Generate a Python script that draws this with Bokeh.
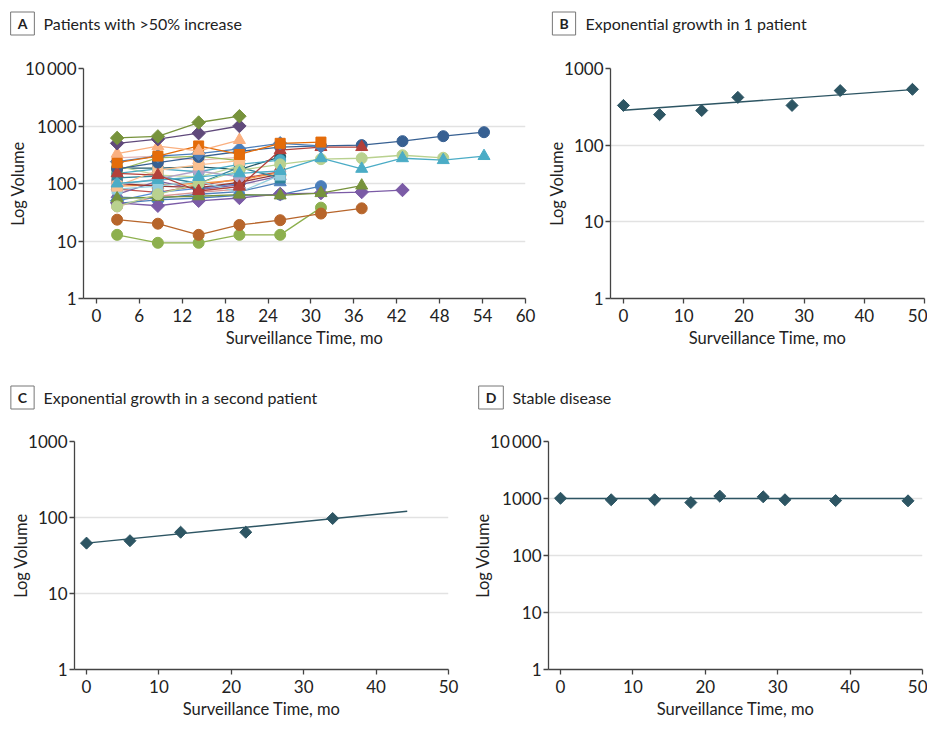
import math
from bokeh.plotting import figure
from bokeh.models import FixedTicker, Label, Range1d, BasicTickFormatter
from bokeh.layouts import column, row
from bokeh.embed import file_html
from bokeh.resources import INLINE

FONT = "Lato"
TXT = "#222222"
AX = "#444444"
GRID = "#e2e2e2"
DARK = "#2d5563"

# ---------------- Panel A data ----------------
a_time = [2.9, 8.6, 14.3, 20.0, 25.7, 31.4, 37.1, 42.8, 48.5, 54.2]
a01 = [620, 660, 1150, 1480]
a02 = [500, 590, 750, 1000]
a03 = [330, 445, 370, 570]
a04 = [230, 300, 450, 320, 500, 525]
a05 = [240, 300, 330, 400, 500, 450]
a06 = [150, 140, 74, 88, 380, 430, 430]
a07 = [180, 230, 290, 360, 430, 450, 465, 545, 665, 780]
a08 = [100, 115, 130, 150, 165, 275, 180, 275, 255, 300]
a09 = [40, 65, 100, 170, 215, 265, 275, 310, 280]
a10 = [55, 58, 60, 64, 62, 68, 92]
a11 = [46, 41, 50, 56, 66, 68, 71, 77]
a12 = [45, 52, 56, 62, 64, 90]
a13 = [23.5, 20, 12.8, 19, 23, 30, 37]
a14 = [12.8, 9.3, 9.3, 12.8, 12.8, 38]
a15 = [90, 170, 210, 250]
a16 = [80, 90, 110, 70, 140]
a17 = [95, 120, 165, 130]
a18 = [125, 135, 100, 190, 125]
a19 = [100, 90, 85, 105, 145]
a20 = [170, 280, 300, 250]
a21 = [58, 55, 65, 72, 105]
a22 = [65, 110, 78, 95, 135]
a23 = [90, 95, 100, 115, 155]
a24 = [150, 180, 160, 215, 255]
a25 = [200, 140, 130, 200]
a26 = [50, 70, 82, 100]
a27 = [80, 70, 92, 120, 160]
a28 = [280, 300, 255, 285]
a29 = [185, 185, 195, 175, 290]
a30 = [40, 60, 70, 80]

a_series = [a30, a29, a28, a27, a26, a25, a24, a23, a22, a21, a20, a19, a18, a17,
            a16, a15, a14, a13, a12, a11, a10, a09, a08, a07, a06, a05, a04, a03,
            a02, a01]
a_styles = [
    ("#D99694", "circle"), ("#215968", "circle"), ("#E6B9B8", "triangle"),
    ("#C0504D", "circle"), ("#558ED5", "diamond"), ("#C3D69B", "square"),
    ("#4BACC6", "circle"), ("#F79646", "triangle"), ("#8064A2", "triangle"),
    ("#4F81BD", "triangle"), ("#9BBB59", "square"), ("#953735", "square"),
    ("#31859C", "square"), ("#B3A2C7", "circle"), ("#93CDDD", "square"),
    ("#FAC090", "square"), ("#8DB04E", "circle"), ("#B7652B", "circle"),
    ("#4A7EBB", "circle"), ("#7B5BA6", "diamond"), ("#77933C", "triangle"),
    ("#B9D18F", "circle"), ("#4BACC6", "triangle"), ("#376092", "circle"),
    ("#B3403A", "triangle"), ("#4A7EBB", "diamond"), ("#E46C0A", "square"),
    ("#FAB080", "triangle"), ("#604A7B", "diamond"), ("#77933C", "diamond"),
]

# ---------------- Panels B, C, D data ----------------
b_time = [0, 6, 13, 19, 28, 36, 48]
b_vol = [330, 250, 283, 420, 330, 515, 535]
b_trend_time = [0, 48]
b_trend_vol = [285, 530]

c_time = [0, 6, 13, 22, 34]
c_vol = [46, 49.5, 64, 64, 97]
c_trend_time = [0, 44.3]
c_trend_vol = [46, 121]

d_time = [0, 7, 13, 18, 22, 28, 31, 38, 48]
d_vol = [1010, 950, 950, 850, 1100, 1070, 950, 920, 910]
d_trend_time = [0, 48]
d_trend_vol = [1000, 1000]

a_xticks = [0, 6, 12, 18, 24, 30, 36, 42, 48, 54, 60]
bcd_xticks = [0, 10, 20, 30, 40, 50]
y_ticks_4 = [1, 10, 100, 1000, 10000]
y_ticks_3 = [1, 10, 100, 1000]


def make_fig(width, height, left, right, top, bottom, xr, ytop, xticks, yticks):
    p = figure(width=width, height=height, x_range=Range1d(*xr),
               y_range=Range1d(1, ytop), y_axis_type="log",
               output_backend="svg", toolbar_location=None,
               min_border_left=left, min_border_right=right,
               min_border_top=top, min_border_bottom=bottom)
    p.outline_line_color = None
    p.background_fill_color = "white"
    p.border_fill_color = "white"
    p.xgrid.visible = False
    p.ygrid.grid_line_color = GRID
    p.ygrid.grid_line_width = 1.5
    p.xaxis.ticker = FixedTicker(ticks=xticks)
    p.yaxis.ticker = FixedTicker(ticks=yticks)
    p.yaxis.formatter = BasicTickFormatter()
    p.yaxis.major_label_overrides = {10000: "10\u2009000"}
    for ax in (p.xaxis, p.yaxis):
        ax.axis_line_color = AX
        ax.axis_line_width = 1.3
        ax.major_tick_line_color = AX
        ax.major_tick_line_width = 1.3
        ax.major_tick_out = 5
        ax.major_tick_in = 0
        ax.minor_tick_line_color = None
        ax.major_label_text_font = FONT
        ax.major_label_text_font_size = "17px"
        ax.major_label_text_color = TXT
        ax.axis_label_text_font = FONT
        ax.axis_label_text_font_size = "16.5px"
        ax.axis_label_text_font_style = "normal"
        ax.axis_label_text_color = TXT
    p.xaxis.axis_label_standoff = 3
    p.yaxis.axis_label_standoff = -6
    p.xaxis.major_label_standoff = 5
    p.yaxis.major_label_standoff = 2
    p.xaxis.axis_label = "Surveillance Time, mo"
    p.yaxis.axis_label = "Log Volume"
    return p


def title_fig(width, height, letter, text, box_x, text_x, y):
    t = figure(width=width, height=height, x_range=Range1d(0, width),
               y_range=Range1d(height, 0), output_backend="svg",
               toolbar_location=None, min_border=0,
               x_axis_location=None, y_axis_location=None)
    t.grid.visible = False
    t.outline_line_color = None
    t.background_fill_color = "white"
    t.border_fill_color = "white"
    t.add_layout(Label(x=box_x, y=y, text=letter, text_font=FONT,
                       text_font_size="14px", text_font_style="bold",
                       text_color=TXT, text_align="center",
                       text_baseline="middle", border_line_color="#777777",
                       border_line_width=1, background_fill_color="white",
                       padding=(7, 3)))
    t.add_layout(Label(x=text_x, y=y, text=text, text_font=FONT,
                       text_font_size="16px", text_color=TXT,
                       text_align="left", text_baseline="middle"))
    return t


# Panel A
tA = title_fig(540, 44, "A", "Patients with >50% increase", 22, 43, 23)
pA = make_fig(540, 339, 83, 15, 23, 85, (-1.8, 60), 10000, a_xticks, y_ticks_4)
for vals, (col, mk) in zip(a_series, a_styles):
    xs = a_time[:len(vals)]
    pA.line(xs, vals, line_color=col, line_width=1.3)
    if mk == "diamond":
        pA.scatter(xs, vals, marker="square", angle=math.pi / 4, size=9.5,
                   fill_color=col, line_color=col)
    elif mk == "circle":
        pA.scatter(xs, vals, marker="circle", size=11, fill_color=col, line_color=col)
    elif mk == "square":
        pA.scatter(xs, vals, marker="square", size=10, fill_color=col, line_color=col)
    else:
        pA.scatter(xs, vals, marker="triangle", size=12, fill_color=col, line_color=col)

# Panel B
tB = title_fig(387, 44, "B", "Exponential growth in 1 patient", 23.5, 45, 23)
pB = make_fig(387, 339, 70, 3, 24, 84, (-2.15, 50), 1000, bcd_xticks, y_ticks_3)
pB.line(b_trend_time, b_trend_vol, line_color=DARK, line_width=1.4)
pB.scatter(b_time, b_vol, marker="square", angle=math.pi / 4, size=8.5,
           fill_color=DARK, line_color=DARK)

# Panel C
tC = title_fig(470, 44, "C", "Exponential growth in a second patient", 22, 43, 14)
pC = make_fig(470, 306, 74, 22, 14, 64, (-1.66, 50), 1000, bcd_xticks, y_ticks_3)
pC.line(c_trend_time, c_trend_vol, line_color=DARK, line_width=1.4)
pC.scatter(c_time, c_vol, marker="square", angle=math.pi / 4, size=8.5,
           fill_color=DARK, line_color=DARK)

# Panel D
tD = title_fig(457, 44, "D", "Stable disease", 20.5, 42, 14)
pD = make_fig(457, 306, 78, 5, 14, 64, (-1.66, 50), 10000, bcd_xticks, y_ticks_4)
pD.line(d_trend_time, d_trend_vol, line_color=DARK, line_width=1.4)
pD.scatter(d_time, d_vol, marker="square", angle=math.pi / 4, size=8.5,
           fill_color=DARK, line_color=DARK)

layout = column(row(tA, tB, spacing=0), row(pA, pB, spacing=0),
                row(tC, tD, spacing=0), row(pC, pD, spacing=0), spacing=0)
open("out.html", "w").write(file_html(layout, INLINE))
